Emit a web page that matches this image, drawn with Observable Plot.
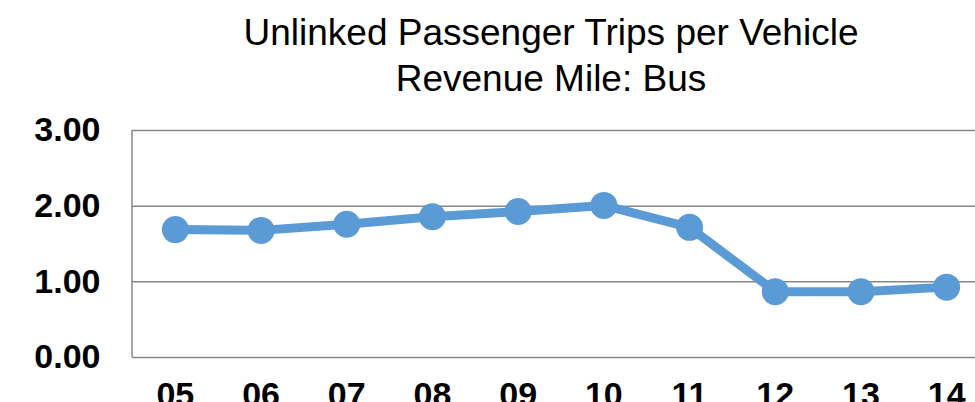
<!DOCTYPE html>
<html>
<head>
<meta charset="utf-8">
<script src="https://cdn.jsdelivr.net/npm/d3@7"></script>
<script src="https://cdn.jsdelivr.net/npm/@observablehq/plot@0.6"></script>
<style>
  html, body { margin: 0; padding: 0; background: #fff; overflow: hidden; width: 975px; height: 402px; }
  #title {
    width: 1102px; height: 112px; box-sizing: border-box; padding-top: 10px;
    text-align: center; font-family: "Liberation Sans", Arial, sans-serif;
    font-size: 37px; line-height: 46px; color: #000;
  }
  #chart svg { display: block; overflow: visible; max-width: none !important; }
</style>
</head>
<body>
<div id="title">Unlinked Passenger Trips per Vehicle<br>Revenue Mile: Bus</div>
<div id="chart"></div>
<script>
const years = ["05", "06", "07", "08", "09", "10", "11", "12", "13", "14"];
const values = [1.69, 1.68, 1.76, 1.86, 1.93, 2.01, 1.72, 0.87, 0.87, 0.93];
const yTicks = [0, 1, 2, 3];

const data = years.map((y, i) => ({year: y, value: values[i]}));

const gridColor = "#878787";

const leftBorder = (index, scales, values, dims) => {
  const g = d3.create("svg:line")
    .attr("x1", dims.marginLeft).attr("x2", dims.marginLeft)
    .attr("y1", scales.y(3)).attr("y2", scales.y(0))
    .attr("stroke", gridColor).attr("stroke-width", 1.5);
  return g.node();
};

const chart = Plot.plot({
  width: 990,
  height: 300,
  marginLeft: 132,
  marginRight: 1,
  marginTop: 18,
  marginBottom: 55,
  style: {fontFamily: '"Liberation Sans", Arial, sans-serif', background: "#fff", overflow: "visible", maxWidth: "none"},
  x: {type: "point", domain: years, padding: 0.5, round: false},
  y: {domain: [0, 3]},
  marks: [
    Plot.ruleY(yTicks, {stroke: gridColor, strokeWidth: 1.5}),
    leftBorder,
    Plot.axisY(yTicks, {tickSize: 0, tickPadding: 32, tickFormat: d => d.toFixed(2), fontSize: 34, fontWeight: "bold", fill: "#000", label: null}),
    Plot.axisX({tickSize: 0, tickPadding: 24, fontSize: 34, fontWeight: "bold", fill: "#000", label: null}),
    Plot.line(data, {x: "year", y: "value", stroke: "#5B9BD5", strokeWidth: 9}),
    Plot.dot(data, {x: "year", y: "value", r: 13.5, fill: "#5B9BD5", stroke: "none"})
  ]
});
document.getElementById("chart").appendChild(chart);
</script>
</body>
</html>
